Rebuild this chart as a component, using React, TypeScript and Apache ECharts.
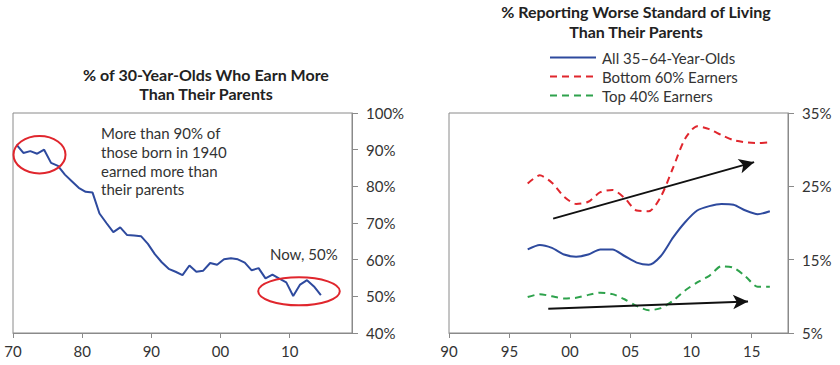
import React, { useEffect, useRef } from "react";
import * as echarts from "echarts";

// Left chart: % of 30-year-olds who earn more than their parents
const leftYears = [
  1970, 1971, 1972, 1973, 1974, 1975, 1976, 1977, 1978, 1979,
  1980, 1981, 1982, 1983, 1984, 1985, 1986, 1987, 1988, 1989,
  1990, 1991, 1992, 1993, 1994, 1995, 1996, 1997, 1998, 1999,
  2000, 2001, 2002, 2003, 2004, 2005, 2006, 2007, 2008, 2009,
  2010, 2011, 2012, 2013, 2014,
];
const earnMore = [
  91.4, 89.1, 89.6, 88.9, 90.0, 86.4, 85.6, 83.2, 81.4, 79.6,
  78.5, 78.3, 72.6, 70.0, 67.5, 68.8, 66.7, 66.6, 66.4, 64.3,
  61.5, 59.3, 57.5, 56.7, 55.8, 58.4, 56.7, 57.0, 59.1, 58.6,
  60.1, 60.4, 60.1, 59.2, 57.1, 57.7, 54.9, 55.9, 54.8, 53.8,
  50.1, 53.2, 54.4, 52.7, 50.3,
];
const leftXTicks = [1970, 1980, 1990, 2000, 2010];

// Right chart: % reporting worse standard of living than their parents
const rightYears = [
  1996, 1997, 1998, 1999, 2000, 2001, 2002, 2003, 2004, 2005, 2006,
  2007, 2008, 2009, 2010, 2011, 2012, 2013, 2014, 2015, 2016,
];
const allAges = [
  16.4, 17.0, 16.6, 15.7, 15.4, 15.7, 16.4, 16.4, 15.5, 14.6, 14.3,
  15.5, 18.0, 20.1, 21.7, 22.3, 22.6, 22.5, 21.7, 21.2, 21.6,
];
const bottom60 = [
  25.4, 26.5, 25.5, 23.6, 22.6, 22.9, 24.2, 24.5, 23.4, 21.7, 21.6,
  23.6, 27.5, 31.5, 33.2, 32.8, 32.0, 31.3, 31.0, 30.9, 31.0,
];
const top40 = [
  9.9, 10.3, 10.0, 9.7, 9.8, 10.2, 10.5, 10.3, 9.6, 8.7, 8.1,
  8.4, 9.4, 10.8, 11.9, 12.8, 14.1, 13.9, 12.7, 11.3, 11.3,
];
const rightXTicks = [1990, 1995, 2000, 2005, 2010, 2015];
const seriesNames = ["All 35–64-Year-Olds", "Bottom 60% Earners", "Top 40% Earners"];
const upperArrow = [[1998.6, 20.6], [2015.2, 28.3]];
const lowerArrow = [[1998.2, 8.3], [2014.7, 9.3]];

const FONT = "Lato, 'Open Sans', sans-serif";
const TXT = "#333";
const AXIS = "#8a8a8a";
const BLUE = "#2e4a9e";
const RED = "#e0262d";
const GREEN = "#2ea24c";

const yearLabel = (v: number) => String(Math.round(v) % 100).padStart(2, "0");

export default function App() {
  const ref = useRef<HTMLDivElement>(null);
  useEffect(() => {
    if (!ref.current) return;
    const chart = echarts.init(ref.current, null, { renderer: "svg" });
    const mid = (ys: number[], vs: number[]) => ys.map((y, i) => [y + 0.5, vs[i]]);
    const xAxisCommon = {
      type: "value" as const,
      splitLine: { show: false },
      axisLine: { show: true, lineStyle: { color: AXIS, width: 1 } },
      axisTick: { show: true, length: 5, lineStyle: { color: AXIS } },
      axisLabel: { color: TXT, fontSize: 15, fontFamily: FONT, margin: 10, formatter: yearLabel },
    };
    const yAxisCommon = {
      type: "value" as const,
      position: "right" as const,
      splitLine: { show: false },
      axisLine: { show: true, lineStyle: { color: AXIS, width: 1 } },
      axisTick: { show: true, length: 6, lineStyle: { color: AXIS } },
      axisLabel: { color: TXT, fontSize: 15, fontFamily: FONT, margin: 14, formatter: (v: number) => `${v}%` },
    };
    chart.setOption({
      animation: false,
      grid: [
        { left: 13, right: 488, top: 113, bottom: 32, show: true, borderColor: AXIS, borderWidth: 1 },
        { left: 449, right: 52, top: 113, bottom: 32, show: true, borderColor: AXIS, borderWidth: 1 },
      ],
      xAxis: [
        {
          ...xAxisCommon, gridIndex: 0, min: 1970, max: 2019,
          axisTick: { ...xAxisCommon.axisTick, customValues: leftXTicks },
          axisLabel: { ...xAxisCommon.axisLabel, customValues: leftXTicks },
        },
        {
          ...xAxisCommon, gridIndex: 1, min: 1990, max: 2018,
          axisTick: { ...xAxisCommon.axisTick, customValues: rightXTicks },
          axisLabel: { ...xAxisCommon.axisLabel, customValues: rightXTicks },
        },
      ],
      yAxis: [
        { ...yAxisCommon, gridIndex: 0, min: 40, max: 100, interval: 10 },
        { ...yAxisCommon, gridIndex: 1, min: 5, max: 35, interval: 10 },
      ],
      legend: {
        orient: "vertical",
        left: 544,
        top: 45,
        itemWidth: 46,
        itemHeight: 14,
        itemGap: 4,
        data: seriesNames,
        itemStyle: { opacity: 0 },
        textStyle: { color: TXT, fontSize: 15, fontFamily: FONT, padding: [0, 0, 0, 1] },
      },
      series: [
        {
          type: "line", xAxisIndex: 0, yAxisIndex: 0, symbol: "none",
          data: mid(leftYears, earnMore),
          lineStyle: { color: BLUE, width: 2 }, itemStyle: { color: BLUE },
        },
        {
          name: seriesNames[0], type: "line", xAxisIndex: 1, yAxisIndex: 1, symbol: "none", smooth: 0.25,
          data: mid(rightYears, allAges),
          lineStyle: { color: BLUE, width: 2 }, itemStyle: { color: BLUE },
          markLine: {
            silent: true, symbol: ["none", "arrow"], symbolSize: [11, 15],
            label: { show: false },
            lineStyle: { color: "#111", width: 2, type: "solid" },
            data: [
              [{ coord: upperArrow[0] }, { coord: upperArrow[1] }],
              [{ coord: lowerArrow[0] }, { coord: lowerArrow[1] }],
            ],
          },
        },
        {
          name: seriesNames[1], type: "line", xAxisIndex: 1, yAxisIndex: 1, symbol: "none", smooth: 0.25,
          data: mid(rightYears, bottom60),
          lineStyle: { color: RED, width: 2, type: [7, 5] }, itemStyle: { color: RED },
        },
        {
          name: seriesNames[2], type: "line", xAxisIndex: 1, yAxisIndex: 1, symbol: "none", smooth: 0.25,
          data: mid(rightYears, top40),
          lineStyle: { color: GREEN, width: 2, type: [7, 5] }, itemStyle: { color: GREEN },
        },
      ],
      graphic: [
        {
          type: "text", x: 206, y: 65,
          style: {
            text: "% of 30-Year-Olds Who Earn More\nThan Their Parents",
            align: "center", verticalAlign: "top", lineHeight: 19,
            font: `bold 16px ${FONT}`, fill: "#222",
          },
        },
        {
          type: "text", x: 636, y: 1,
          style: {
            text: "% Reporting Worse Standard of Living\nThan Their Parents",
            align: "center", verticalAlign: "top", lineHeight: 20,
            font: `bold 16px ${FONT}`, fill: "#222",
          },
        },
        {
          type: "text", x: 101, y: 124,
          style: {
            text: "More than 90% of\nthose born in 1940\nearned more than\ntheir parents",
            align: "left", verticalAlign: "top", lineHeight: 18.7,
            font: `15px ${FONT}`, fill: TXT,
          },
        },
        {
          type: "text", x: 270, y: 246,
          style: { text: "Now, 50%", align: "left", verticalAlign: "top", font: `15px ${FONT}`, fill: TXT },
        },
        {
          type: "ellipse", shape: { cx: 39.5, cy: 154.7, rx: 26, ry: 18.7 },
          style: { fill: "none", stroke: RED, lineWidth: 2 }, z: 10,
        },
        {
          type: "ellipse", shape: { cx: 299, cy: 291.3, rx: 40.8, ry: 14 },
          style: { fill: "none", stroke: RED, lineWidth: 2 }, z: 10,
        },
      ],
    });
    return () => chart.dispose();
  }, []);
  return (
    <div
      ref={ref}
      style={{ position: "fixed", left: 0, top: 0, width: 840, height: 365, background: "#fff" }}
    />
  );
}
